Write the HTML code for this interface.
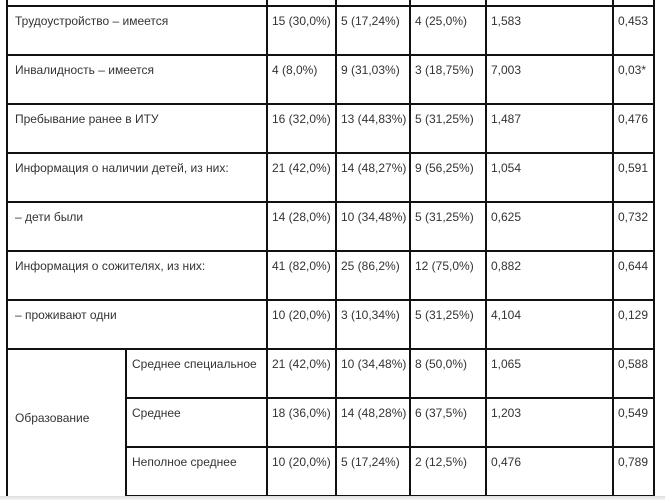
<!DOCTYPE html>
<html><head><meta charset="utf-8"><style>
body{margin:0;width:665px;height:500px;background:#fff;overflow:hidden;position:relative;font-family:"Liberation Sans","DejaVu Sans",sans-serif;font-size:12px;color:#333}
.h,.v{position:absolute;background:#111}
.h{height:2px}.v{width:2px}
.t{position:absolute;white-space:nowrap;line-height:14px}
.shadow{position:absolute;left:0;top:496px;width:665px;height:4px;background:linear-gradient(#ddd,#f4f4f4)}
</style></head><body>
<div id="g"></div>
<div class="shadow"></div>
<script>
const rows=[
["Трудоустройство – имеется","15 (30,0%)","5 (17,24%)","4 (25,0%)","1,583","0,453"],
["Инвалидность – имеется","4 (8,0%)","9 (31,03%)","3 (18,75%)","7,003","0,03*"],
["Пребывание ранее в ИТУ","16 (32,0%)","13 (44,83%)","5 (31,25%)","1,487","0,476"],
["Информация о наличии детей, из них:","21 (42,0%)","14 (48,27%)","9 (56,25%)","1,054","0,591"],
["– дети были","14 (28,0%)","10 (34,48%)","5 (31,25%)","0,625","0,732"],
["Информация о сожителях, из них:","41 (82,0%)","25 (86,2%)","12 (75,0%)","0,882","0,644"],
["– проживают одни","10 (20,0%)","3 (10,34%)","5 (31,25%)","4,104","0,129"],
["Среднее специальное","21 (42,0%)","10 (34,48%)","8 (50,0%)","1,065","0,588"],
["Среднее","18 (36,0%)","14 (48,28%)","6 (37,5%)","1,203","0,549"],
["Неполное среднее","10 (20,0%)","5 (17,24%)","2 (12,5%)","0,476","0,789"]];
const g=document.getElementById('g');
const ys=[6,55,104,153,202,251,300,349,398,447,496];
const xs=[7,267,336,410,486,613,654];
function add(cls,st,txt){const d=document.createElement('div');d.className=cls;d.style.cssText=st;if(txt!==undefined)d.textContent=txt;g.appendChild(d);return d;}
ys.forEach((y,i)=>{let x0=(i>=8)?126:xs[0];
const d=add('h',`left:${x0}px;top:${y-1}px;width:${xs[6]-x0+1}px`);

});
const lb=add('v',`left:${xs[0]-1}px;top:0;height:500px`);


xs.slice(1).forEach(x=>{const d=add('v',`left:${x-1}px;top:0;height:500px`);

});
const sub=add('v',`left:125px;top:${ys[7]-1}px;height:${500-ys[7]}px`);


const tx=[15,272,341,415,491,618];
rows.forEach((r,i)=>{const y=ys[i]+8;
r.forEach((c,j)=>{let x=tx[j];if(j===0&&i>=7)x=132;
const d=add('t',`left:${x}px;top:${y}px`,c);

});});
const ed=add('t',`left:15px;top:411px`,'Образование');


</script>
</body></html>
